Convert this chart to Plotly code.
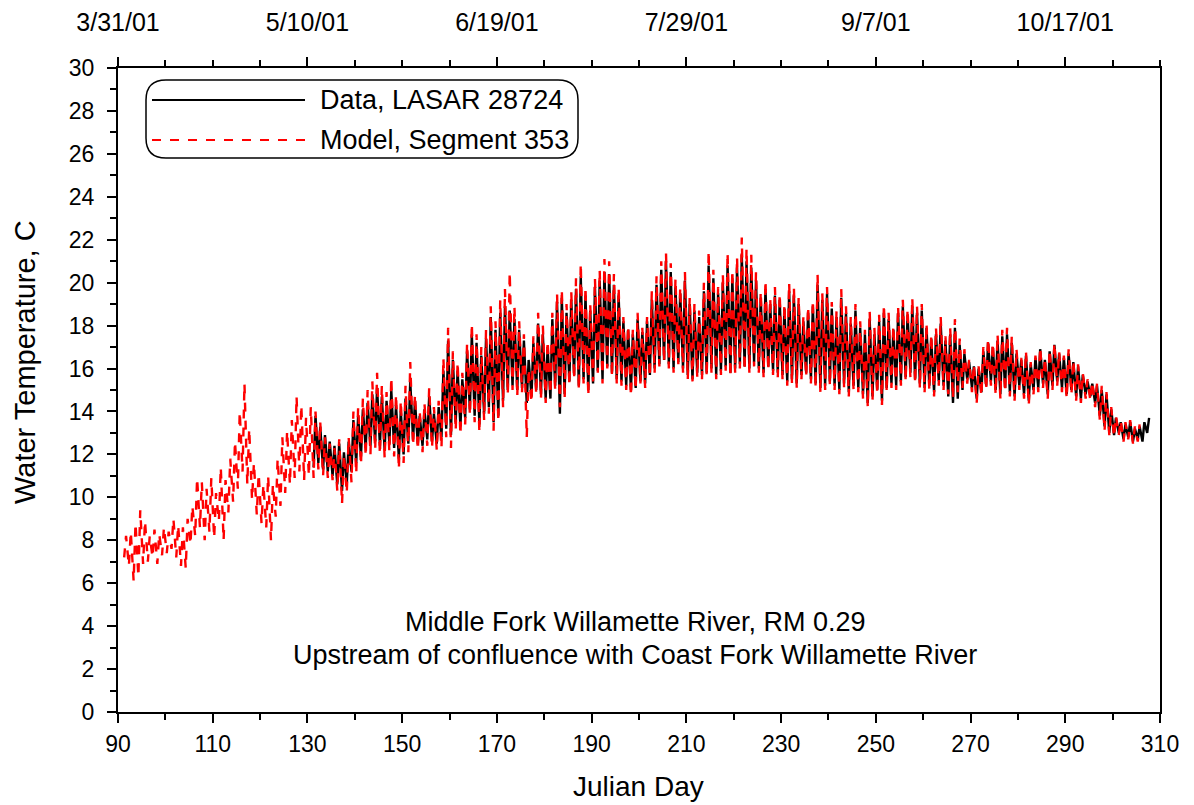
import plotly.graph_objects as go

# Model, Segment 353: daily minimum / maximum, days 91..305
model_start = 91
model_min = [
    7.2, 6.8, 6.1, 6.3, 6.9, 7.0, 7.2, 6.9, 7.3, 7.4,
    7.6, 7.2, 6.8, 6.7, 7.8, 8.2, 8.6, 8.0, 8.4, 8.1,
    8.9, 8.0, 9.3, 9.8, 10.4, 11.2, 10.6, 9.9, 9.2, 8.8,
    8.6, 8.0, 9.1, 9.6, 10.2, 10.6, 10.9, 11.2, 10.8, 11.0,
    10.9, 11.3, 11.0, 10.9, 10.8, 10.3, 9.7, 10.2, 10.7, 11.1,
    11.5, 11.9, 12.0, 12.2, 12.0, 11.8, 12.1, 11.9, 11.3, 11.6,
    12.1, 12.4, 12.2, 12.1, 12.4, 12.3, 12.2, 12.3, 12.8, 12.3,
    13.1, 12.9, 13.4, 13.8, 13.5, 13.0, 13.6, 13.9, 13.1, 13.5,
    14.2, 14.8, 15.0, 14.7, 14.9, 12.8, 14.4, 14.8, 14.6, 14.4,
    14.8, 15.0, 14.2, 14.6, 15.2, 15.5, 15.0, 15.3, 14.7, 15.4,
    15.8, 15.3, 16.0, 15.6, 15.3, 15.2, 15.0, 14.7, 15.0, 15.3,
    15.1, 15.6, 15.8, 16.1, 16.3, 16.0, 15.8, 16.2, 15.8, 15.5,
    15.4, 15.6, 15.5, 15.6, 15.8, 15.5, 15.7, 15.9, 15.6, 15.8,
    16.0, 15.9, 15.8, 16.1, 15.8, 15.6, 15.9, 15.7, 15.6, 15.5,
    15.2, 15.3, 15.1, 15.5, 15.6, 15.3, 15.1, 14.9, 15.0, 15.2,
    15.0, 14.8, 15.1, 14.7, 15.0, 14.9, 14.6, 14.2, 14.5, 14.8,
    14.3, 14.9, 15.1, 15.0, 15.2, 15.4, 15.6, 15.3, 15.1, 14.9,
    15.0, 14.7, 15.2, 15.0, 14.8, 14.6, 14.9, 15.1, 15.3, 14.9,
    14.4, 14.7, 15.0, 15.2, 14.8, 14.6, 14.9, 14.7, 14.5, 15.0,
    14.6, 14.3, 14.8, 14.9, 15.1, 14.6, 15.0, 15.2, 14.9, 14.6,
    14.8, 14.5, 14.4, 14.6, 14.5, 14.2, 13.6, 13.1, 12.9, 12.8,
    12.9, 12.6, 12.7, 12.5, 12.6,
]
model_max = [
    8.2, 8.4, 8.8, 9.4, 8.9, 8.2, 8.5, 8.3, 8.6, 8.4,
    9.0, 8.7, 8.6, 9.0, 9.6, 10.9, 10.7, 10.4, 10.9, 10.2,
    11.4, 10.8, 11.8, 12.6, 14.0, 15.3, 13.2, 11.6, 11.1, 10.6,
    11.0, 10.6, 11.8, 12.8, 13.1, 13.6, 14.7, 14.3, 13.7, 14.2,
    14.0, 13.5, 12.8, 12.5, 12.3, 12.7, 12.0, 12.8, 14.0, 14.2,
    14.6, 15.0, 15.4, 15.8, 15.2, 14.9, 15.6, 14.8, 14.5, 15.2,
    16.3, 14.8, 14.0, 14.4, 15.1, 14.2, 14.5, 16.5, 17.9, 16.8,
    16.3, 15.8, 17.2, 18.1, 17.6, 17.0, 17.8, 18.9, 18.2, 19.2,
    19.7, 20.5, 18.9, 18.2, 17.6, 16.0, 17.5, 18.6, 18.0, 17.3,
    18.6, 19.5, 19.7, 19.0, 19.6, 20.2, 20.9, 19.8, 19.0, 20.2,
    20.6, 21.1, 21.0, 20.4, 19.8, 18.4, 18.0, 17.8, 18.6, 17.9,
    18.4, 19.6, 20.3, 21.0, 21.4, 20.9, 20.2, 19.8, 20.5, 19.3,
    19.0, 18.7, 20.0, 21.5, 20.6, 19.8, 20.4, 21.4, 20.6, 21.2,
    22.1, 21.6, 21.3, 20.5, 19.6, 20.1, 19.3, 19.8, 19.5, 19.0,
    20.0, 19.8, 19.3, 18.4, 18.9, 19.2, 20.4, 19.5, 19.8, 19.1,
    18.7, 19.7, 18.9, 18.4, 19.0, 18.2, 17.8, 18.7, 17.9, 18.5,
    19.0, 18.6, 18.0, 18.9, 19.2, 18.8, 19.3, 18.9, 19.0, 18.1,
    17.6, 17.9, 18.4, 17.5, 17.9, 18.3, 17.4, 16.9, 16.4, 16.2,
    16.1, 17.0, 17.4, 17.2, 17.6, 17.8, 17.9, 17.5, 16.9, 16.5,
    16.8, 16.3, 16.6, 17.0, 16.5, 16.9, 17.2, 16.8, 16.6, 16.9,
    16.4, 16.2, 15.8, 15.5, 15.4, 15.3, 15.2, 14.9, 14.2, 13.8,
    13.6, 13.5, 13.6, 13.3, 13.4,
]

# Data, LASAR 28724: daily minimum / maximum, days 131..307
data_start = 131
data_min = [
    11.4, 11.6, 11.3, 11.2, 11.0, 10.6, 10.3, 10.6, 11.2, 11.6,
    11.9, 12.3, 12.4, 12.6, 12.4, 12.2, 12.5, 12.3, 11.8, 12.0,
    12.5, 12.7, 12.5, 12.4, 12.7, 12.6, 12.5, 12.8, 13.2, 12.9,
    13.5, 13.3, 13.7, 14.1, 13.8, 13.4, 13.9, 14.2, 13.5, 13.8,
    14.5, 15.0, 15.2, 15.0, 15.1, 14.4, 14.7, 15.0, 14.8, 14.6,
    14.6, 15.2, 13.9, 14.8, 15.4, 15.7, 15.2, 15.5, 15.0, 15.3,
    15.9, 15.5, 16.1, 15.8, 15.5, 15.4, 15.2, 15.0, 15.1, 15.4,
    15.3, 15.7, 16.0, 16.2, 16.4, 16.2, 16.0, 16.3, 16.0, 15.7,
    15.5, 15.8, 15.7, 15.8, 16.0, 15.7, 15.9, 16.1, 15.8, 16.0,
    16.2, 16.1, 16.0, 16.3, 16.0, 15.8, 16.1, 15.9, 15.8, 15.7,
    15.4, 15.5, 15.3, 15.7, 15.8, 15.5, 15.3, 15.1, 15.2, 15.4,
    15.2, 15.0, 15.3, 14.9, 15.2, 15.1, 14.8, 14.4, 14.7, 15.0,
    14.5, 15.1, 15.3, 15.2, 15.4, 15.6, 15.8, 15.5, 15.3, 15.1,
    15.2, 14.9, 15.4, 15.2, 14.7, 14.4, 14.6, 15.0, 15.5, 15.1,
    14.6, 14.9, 15.2, 15.4, 15.0, 14.8, 15.1, 14.9, 14.7, 15.2,
    14.8, 14.5, 15.0, 15.1, 15.3, 14.8, 15.2, 15.4, 15.1, 14.8,
    15.0, 14.7, 14.6, 14.8, 14.7, 14.4, 13.8, 13.3, 13.0, 12.9,
    13.0, 12.7, 12.8, 12.6, 12.7, 12.6, 13.0,
]
data_max = [
    13.8, 13.3, 12.9, 12.6, 12.4, 12.5, 12.1, 12.6, 13.6, 13.8,
    14.1, 14.4, 14.8, 15.1, 14.7, 14.5, 15.0, 14.3, 14.0, 14.6,
    15.4, 14.5, 13.8, 14.1, 14.7, 13.9, 14.2, 15.9, 17.3, 16.4,
    15.9, 15.5, 16.8, 17.6, 17.2, 16.6, 17.4, 18.4, 17.8, 18.6,
    18.9, 18.7, 18.3, 17.8, 17.3, 16.4, 17.2, 18.1, 17.6, 17.0,
    18.3, 19.1, 19.3, 18.6, 19.2, 19.7, 20.3, 19.4, 18.7, 19.8,
    20.1, 20.5, 20.4, 19.9, 19.4, 18.2, 17.8, 17.6, 18.3, 17.7,
    18.2, 19.2, 19.9, 20.6, 21.0, 20.5, 19.8, 19.5, 20.1, 19.0,
    18.7, 18.4, 19.6, 20.8, 20.2, 19.5, 20.0, 20.8, 20.2, 20.7,
    21.3, 21.0, 20.7, 20.1, 19.3, 19.7, 19.0, 19.4, 19.2, 18.8,
    19.6, 19.4, 19.0, 18.2, 18.6, 18.9, 19.9, 19.2, 19.5, 18.8,
    18.4, 19.3, 18.6, 18.1, 18.7, 17.9, 17.6, 18.3, 17.6, 18.2,
    18.6, 18.3, 17.8, 18.6, 18.9, 18.5, 18.9, 18.6, 18.7, 17.9,
    17.4, 17.6, 18.1, 17.3, 17.6, 17.9, 17.1, 16.7, 16.3, 16.1,
    16.0, 16.8, 17.2, 17.0, 17.3, 17.5, 17.6, 17.2, 16.7, 16.4,
    16.6, 16.2, 16.5, 16.9, 16.4, 16.8, 17.1, 16.7, 16.5, 16.7,
    16.3, 16.1, 15.7, 15.4, 15.3, 15.2, 15.0, 14.8, 14.1, 13.7,
    13.5, 13.4, 13.5, 13.2, 13.3, 13.5, 13.7,
]

# Top axis date labels (at Julian days 90, 130, ... 290)
top_days = [90, 130, 170, 210, 250, 290]
top_labels = ["3/31/01", "5/10/01", "6/19/01", "7/29/01", "9/7/01", "10/17/01"]

legend_labels = ["Data, LASAR 28724", "Model, Segment 353"]
annot_lines = ["Middle Fork Willamette River, RM 0.29",
               "Upstream of confluence with Coast Fork Willamette River"]


def diurnal(start, mins, maxs):
    xs, ys = [], []
    for i, (lo, hi) in enumerate(zip(mins, maxs)):
        d = start + i
        xs += [d + 0.3, d + 0.7]
        ys += [lo, hi]
    return xs, ys


FONT = "Liberation Sans, Arial, sans-serif"
TICK_FS = 23
TOP_FS = 25
TEXT_FS = 27

dx, dy = diurnal(data_start, data_min, data_max)
mx, my = diurnal(model_start, model_min, model_max)

fig = go.Figure()
fig.add_trace(go.Scatter(x=dx, y=dy, mode="lines", name=legend_labels[0],
                         line=dict(color="black", width=2.4), showlegend=False))
fig.add_trace(go.Scatter(x=mx, y=my, mode="lines", name=legend_labels[1],
                         line=dict(color="#ff0000", width=2.4, dash="dash"),
                         showlegend=False))
# invisible trace to activate the top axis
fig.add_trace(go.Scatter(x=[90, 310], y=[None, None], xaxis="x2", yaxis="y",
                         mode="lines", showlegend=False, hoverinfo="skip"))

PW, PH = 1042, 644

fig.update_layout(
    width=1194, height=805,
    margin=dict(l=110, r=42, t=60, b=101),
    paper_bgcolor="white", plot_bgcolor="white",
    font=dict(family=FONT, size=TICK_FS, color="black"),
    xaxis=dict(range=[90, 310], tickmode="linear", tick0=90, dtick=20,
               ticks="outside", ticklen=9, tickwidth=1.5, tickcolor="black",
               minor=dict(dtick=10, tick0=90, ticks="outside", ticklen=6,
                          tickwidth=1.5, tickcolor="black"),
               showline=True, linecolor="black", linewidth=2, showgrid=False,
               zeroline=False, ticklabelstandoff=1, automargin=False),
    xaxis2=dict(range=[90, 310], overlaying="x", side="top",
                tickmode="array", tickvals=top_days, ticktext=top_labels,
                tickfont=dict(size=TOP_FS),
                ticks="outside", ticklen=9, tickwidth=1.5, tickcolor="black",
                minor=dict(dtick=10, tick0=90, ticks="outside", ticklen=6,
                           tickwidth=1.5, tickcolor="black"),
                showline=True, linecolor="black", linewidth=2, showgrid=False,
                zeroline=False, ticklabelstandoff=16, automargin=False),
    yaxis=dict(range=[0, 30], tickmode="linear", tick0=0, dtick=2,
               ticks="outside", ticklen=9, tickwidth=1.5, tickcolor="black",
               minor=dict(dtick=1, ticks="outside", ticklen=6, tickwidth=1.5,
                          tickcolor="black"),
               showline=True, linecolor="black", linewidth=2, mirror=True,
               showgrid=False, zeroline=False, ticklabelstandoff=8,
               automargin=False),
)

# Axis titles
fig.add_annotation(xref="paper", yref="paper", x=(638 - 118) / PW, y=-(786 - 712) / PH,
                   text="Julian Day", showarrow=False, xanchor="center",
                   yanchor="middle", font=dict(size=28))
fig.add_annotation(xref="paper", yref="paper", x=-(118 - 25) / PW, y=(712 - 362) / PH,
                   text="Water Temperature, C", showarrow=False, textangle=-90,
                   xanchor="center", yanchor="middle", font=dict(size=29))

# Rounded legend box
x0, x1 = (146 - 118) / PW, (578 - 118) / PW
y0, y1 = (712 - 158) / PH, (712 - 80) / PH
r = 20 / PW
ry = 20 / PH
fig.add_shape(type="path", xref="paper", yref="paper",
              path=(f"M {x0+r},{y0} L {x1-r},{y0} Q {x1},{y0} {x1},{y0+ry} "
                    f"L {x1},{y1-ry} Q {x1},{y1} {x1-r},{y1} L {x0+r},{y1} "
                    f"Q {x0},{y1} {x0},{y1-ry} L {x0},{y0+ry} Q {x0},{y0} {x0+r},{y0} Z"),
              line=dict(color="black", width=1.5), fillcolor="white", layer="below")
lx0, lx1 = (152 - 118) / PW, (305 - 118) / PW
ly_data, ly_model = (712 - 100) / PH, (712 - 140) / PH
fig.add_shape(type="line", xref="paper", yref="paper", x0=lx0, x1=lx1,
              y0=ly_data, y1=ly_data, line=dict(color="black", width=2))
fig.add_shape(type="line", xref="paper", yref="paper", x0=lx0, x1=lx1,
              y0=ly_model, y1=ly_model, line=dict(color="#ff0000", width=2, dash="dash"))
tx = (318 - 118) / PW
fig.add_annotation(xref="paper", yref="paper", x=tx, y=ly_data, text=legend_labels[0],
                   showarrow=False, xanchor="left", yanchor="middle",
                   font=dict(size=TEXT_FS))
fig.add_annotation(xref="paper", yref="paper", x=tx, y=ly_model, text=legend_labels[1],
                   showarrow=False, xanchor="left", yanchor="middle",
                   font=dict(size=TEXT_FS))

ax = (635 - 118) / PW
fig.add_annotation(xref="paper", yref="paper", x=ax, y=(712 - 622) / PH, text=annot_lines[0],
                   showarrow=False, xanchor="center", yanchor="middle",
                   font=dict(size=TEXT_FS))
fig.add_annotation(xref="paper", yref="paper", x=ax, y=(712 - 655) / PH, text=annot_lines[1],
                   showarrow=False, xanchor="center", yanchor="middle",
                   font=dict(size=TEXT_FS))

fig.write_html("out.html")
